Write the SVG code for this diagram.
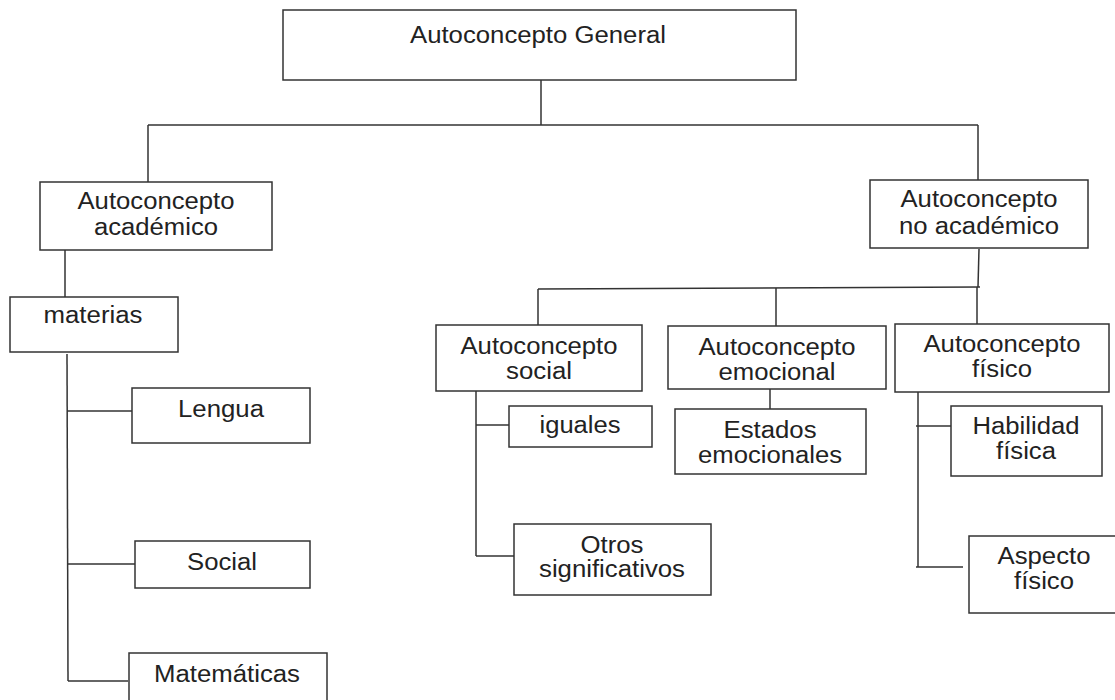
<svg xmlns="http://www.w3.org/2000/svg" width="1115" height="700" viewBox="0 0 1115 700">
<style>
.box{fill:#fff;stroke:#333;stroke-width:1.5}
.con line{stroke:#333;stroke-width:1.5}
text{font-family:"Liberation Sans",Arial,sans-serif;font-size:23px;fill:#222;text-anchor:middle}
</style>
<rect width="1115" height="700" fill="#fff"/>
<g class="con" id="connectors">
<line x1="541" y1="80" x2="541" y2="125"/>
<line x1="148" y1="125" x2="978" y2="125"/>
<line x1="148" y1="125" x2="148" y2="182"/>
<line x1="978" y1="125" x2="978" y2="180"/>
<line x1="65" y1="250" x2="65" y2="297"/>
<line x1="67" y1="354" x2="68" y2="681"/>
<line x1="67" y1="411" x2="132" y2="411"/>
<line x1="68" y1="564" x2="135" y2="564"/>
<line x1="68" y1="681" x2="128" y2="681"/>
<line x1="979" y1="249" x2="978" y2="287"/>
<line x1="538" y1="289" x2="980" y2="287"/>
<line x1="538" y1="289" x2="538" y2="325"/>
<line x1="776" y1="288" x2="776" y2="327"/>
<line x1="977" y1="287" x2="977" y2="324"/>
<line x1="476" y1="391" x2="476" y2="556"/>
<line x1="476" y1="425" x2="509" y2="425"/>
<line x1="476" y1="556" x2="514" y2="556"/>
<line x1="770" y1="389" x2="770" y2="410"/>
<line x1="918" y1="392" x2="918" y2="567"/>
<line x1="916" y1="426" x2="951" y2="426"/>
<line x1="916" y1="567" x2="963" y2="567"/>
</g>
<g id="general"><rect class="box" x="283" y="10" width="513" height="70"/><text x="538" y="43" textLength="256" lengthAdjust="spacingAndGlyphs">Autoconcepto General</text></g>
<g id="academico"><rect class="box" x="40" y="182" width="232" height="68"/><text x="156" y="209" textLength="157" lengthAdjust="spacingAndGlyphs">Autoconcepto</text><text x="156" y="235" textLength="124" lengthAdjust="spacingAndGlyphs">académico</text></g>
<g id="noacademico"><rect class="box" x="870" y="180" width="218" height="68"/><text x="979" y="207" textLength="157" lengthAdjust="spacingAndGlyphs">Autoconcepto</text><text x="979" y="234" textLength="160" lengthAdjust="spacingAndGlyphs">no académico</text></g>
<g id="materias"><rect class="box" x="10" y="297" width="168" height="55"/><text x="93" y="323" textLength="99" lengthAdjust="spacingAndGlyphs">materias</text></g>
<g id="lengua"><rect class="box" x="132" y="388" width="178" height="55"/><text x="221" y="417" textLength="86" lengthAdjust="spacingAndGlyphs">Lengua</text></g>
<g id="social-mat"><rect class="box" x="135" y="541" width="175" height="47"/><text x="222" y="570" textLength="70" lengthAdjust="spacingAndGlyphs">Social</text></g>
<g id="matematicas"><rect class="box" x="129" y="653" width="198" height="60"/><text x="227" y="682" textLength="146" lengthAdjust="spacingAndGlyphs">Matemáticas</text></g>
<g id="social"><rect class="box" x="436" y="325" width="206" height="66"/><text x="539" y="354" textLength="157" lengthAdjust="spacingAndGlyphs">Autoconcepto</text><text x="539" y="379" textLength="66" lengthAdjust="spacingAndGlyphs">social</text></g>
<g id="emocional"><rect class="box" x="668" y="326" width="218" height="63"/><text x="777" y="355" textLength="157" lengthAdjust="spacingAndGlyphs">Autoconcepto</text><text x="777" y="380" textLength="117" lengthAdjust="spacingAndGlyphs">emocional</text></g>
<g id="fisico"><rect class="box" x="895" y="324" width="214" height="68"/><text x="1002" y="352" textLength="157" lengthAdjust="spacingAndGlyphs">Autoconcepto</text><text x="1002" y="377" textLength="60" lengthAdjust="spacingAndGlyphs">físico</text></g>
<g id="iguales"><rect class="box" x="509" y="406" width="143" height="41"/><text x="580" y="433" textLength="81" lengthAdjust="spacingAndGlyphs">iguales</text></g>
<g id="otros"><rect class="box" x="514" y="524" width="197" height="71"/><text x="612" y="553" textLength="63" lengthAdjust="spacingAndGlyphs">Otros</text><text x="612" y="577" textLength="146" lengthAdjust="spacingAndGlyphs">significativos</text></g>
<g id="estados"><rect class="box" x="675" y="409" width="191" height="65"/><text x="770" y="438" textLength="93" lengthAdjust="spacingAndGlyphs">Estados</text><text x="770" y="463" textLength="144" lengthAdjust="spacingAndGlyphs">emocionales</text></g>
<g id="habilidad"><rect class="box" x="951" y="406" width="151" height="70"/><text x="1026" y="434" textLength="107" lengthAdjust="spacingAndGlyphs">Habilidad</text><text x="1026" y="459" textLength="60" lengthAdjust="spacingAndGlyphs">física</text></g>
<g id="aspecto"><rect class="box" x="969" y="536" width="152" height="77"/><text x="1044" y="564" textLength="93" lengthAdjust="spacingAndGlyphs">Aspecto</text><text x="1044" y="589" textLength="60" lengthAdjust="spacingAndGlyphs">físico</text></g>
</svg>
